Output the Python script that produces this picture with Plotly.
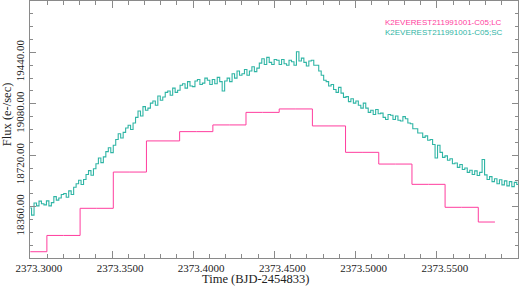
import numpy as np
import plotly.graph_objects as go

# ---- data ----
series_names = ["K2EVEREST211991001-C05;LC", "K2EVEREST211991001-C05;SC"]
series_colors = ["#ff3d9e", "#2fb5a5"]

lc_time = [2373.2997, 2373.3201, 2373.3406, 2373.3610, 2373.3814, 2373.4019,
           2373.4223, 2373.4427, 2373.4632, 2373.4836, 2373.5040, 2373.5245,
           2373.5449, 2373.5653, 2373.5858]
lc_flux = [18044, 18158, 18348, 18602, 18820, 18885, 18932, 19020, 19044,
           18925, 18740, 18658, 18516, 18355, 18252]

sc_flux = [
    18350, 18300, 18385, 18365, 18398, 18380, 18372, 18400, 18365, 18388,
    18430, 18405, 18420, 18445, 18452, 18425, 18470, 18445, 18495, 18520,
    18545, 18515, 18550, 18585, 18612, 18580, 18625, 18660, 18700, 18668,
    18708, 18745, 18772, 18738, 18790, 18830, 18870, 18840, 18880, 18910,
    18930, 18900, 18945, 18985, 19030, 18995, 19060, 19035, 19050, 19085,
    19100, 19070, 19135, 19105, 19128, 19160, 19170, 19140, 19190, 19160,
    19175, 19210, 19220, 19190, 19235, 19205, 19200, 19240, 19250, 19215,
    19225, 19260, 19245, 19215, 19250, 19220, 19265, 19235, 19170, 19240,
    19260, 19235, 19290, 19260, 19310, 19280, 19290, 19320, 19280, 19310,
    19340, 19305, 19330, 19365, 19395, 19355, 19405, 19370, 19355, 19390,
    19385, 19355, 19390, 19360, 19350, 19385, 19375, 19350, 19445, 19380,
    19400, 19370, 19345, 19380, 19385, 19350, 19350, 19310, 19280, 19245,
    19235, 19205, 19215, 19180, 19160, 19195, 19155, 19125, 19130, 19095,
    19115, 19085, 19100, 19070, 19050, 19085, 19050, 19020, 19035, 19005,
    19040, 19010, 19015, 18985, 18970, 19005, 19000, 18970, 18995, 18965,
    18960, 18990, 18975, 18945, 18940, 18905, 18905, 18875, 18875, 18845,
    18855, 18825, 18830, 18795, 18700, 18790, 18740, 18705, 18715, 18685,
    18695, 18660, 18665, 18635, 18655, 18620, 18630, 18600, 18615, 18585,
    18610, 18578, 18600, 18690, 18582, 18550, 18570, 18535, 18555, 18520,
    18548, 18512, 18540, 18505, 18535, 18500, 18530, 18515,
]
sc_t_start, sc_t_end = 2373.2997, 2373.6000
sc_time = np.linspace(sc_t_start, sc_t_end, len(sc_flux))

x_ticks = [2373.30, 2373.35, 2373.40, 2373.45, 2373.50, 2373.55]
y_ticks = [18360, 18720, 19080, 19440]
x_range = [2373.2995, 2373.6000]
y_range = [18000, 19800]

x_title = "Time (BJD-2454833)"
y_title = "Flux (e-/sec)"

# ---- figure ----
fig = go.Figure()
fig.add_trace(go.Scatter(x=lc_time, y=lc_flux, mode="lines", line_shape="hvh",
                         line=dict(color=series_colors[0], width=1),
                         name=series_names[0]))
fig.add_trace(go.Scatter(x=sc_time, y=sc_flux, mode="lines", line_shape="hvh",
                         line=dict(color=series_colors[1], width=1.1),
                         name=series_names[1]))

axis_col = "#8a8a8a"
serif = "Liberation Serif"

fig.update_layout(
    template="none",
    width=519, height=286,
    margin=dict(l=30, r=1, t=1, b=28, autoexpand=False),
    paper_bgcolor="white", plot_bgcolor="white",
    showlegend=False,
    font=dict(family=serif, size=11, color="#222"),
)
fig.update_xaxes(
    automargin=False,
    range=x_range, tickvals=x_ticks, tickformat=".4f",
    ticks="inside", ticklen=7, tickcolor=axis_col, tickwidth=1,
    minor=dict(tickmode="linear", tick0=2373.30, dtick=0.01, ticks="inside",
               ticklen=4, tickcolor=axis_col, showgrid=False),
    showline=True, linecolor=axis_col, linewidth=1, mirror="ticks",
    showgrid=False, zeroline=False,
    tickfont=dict(family=serif, size=11, color="#222"),
    ticklabelshift=8, ticklabelstandoff=0,
)
fig.update_yaxes(
    automargin=False,
    range=y_range, tickvals=y_ticks, tickformat=".2f", tickangle=-90,
    ticks="inside", ticklen=6, tickcolor=axis_col, tickwidth=1,
    minor=dict(tickmode="linear", tick0=18000, dtick=90, ticks="inside",
               ticklen=3, tickcolor=axis_col, showgrid=False),
    showline=True, linecolor=axis_col, linewidth=1, mirror="ticks",
    showgrid=False, zeroline=False,
    tickfont=dict(family=serif, size=11, color="#222"),
    ticklabelshift=10, ticklabelstandoff=1,
)

# axis titles
fig.add_annotation(text=x_title, xref="paper", yref="paper", x=0.463, y=-0.082,
                   xanchor="center", yanchor="middle", showarrow=False,
                   font=dict(family=serif, size=12.5, color="#222"))
fig.add_annotation(text=y_title, xref="paper", yref="paper", x=-0.047, y=0.56,
                   xanchor="center", yanchor="middle", showarrow=False, textangle=-90,
                   font=dict(family=serif, size=12.5, color="#222"))

# legend texts
for i, (nm, col) in enumerate(zip(series_names, series_colors)):
    fig.add_annotation(text=nm, xref="paper", yref="paper", x=0.7234,
                       y=[0.918, 0.878][i], xanchor="left", yanchor="middle",
                       showarrow=False,
                       font=dict(family="Liberation Sans", size=8, color=col))

fig.write_html("out.html",
               config={"displayModeBar": False},
               post_script="document.body.style.margin='0';document.body.style.overflow='hidden';")
